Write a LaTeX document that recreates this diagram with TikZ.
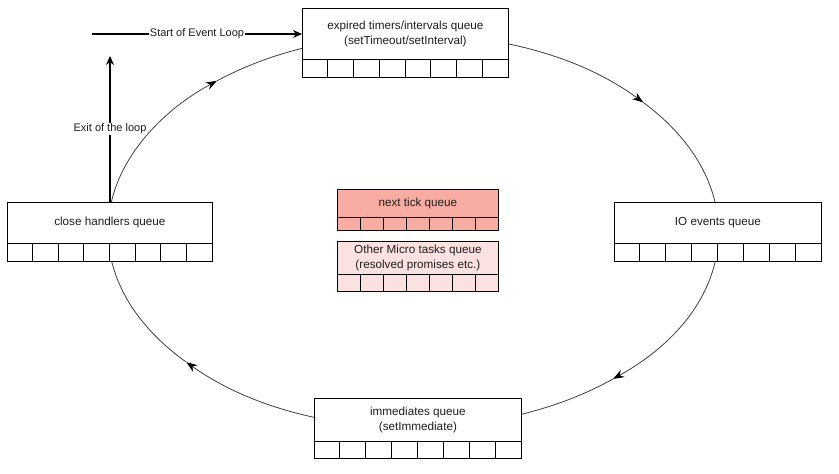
\documentclass[tikz,border=0pt]{standalone}
\usepackage{fontspec}
\setmainfont{Liberation Sans}
\usetikzlibrary{arrows.meta,calc}
\definecolor{tickfill}{RGB}{249,172,162}
\definecolor{microfill}{RGB}{252,225,225}
\definecolor{txt}{RGB}{30,30,30}
\tikzset{
  qtext/.style={draw=black, line width=0.8pt, align=center, inner sep=0pt, text=txt,
    font=\fontsize{11.7}{14.5}\selectfont},
  qcell/.style={draw=black, line width=0.8pt},
  looppath/.style={draw=black!75, line width=0.8pt, -{Stealth[length=11pt,width=8pt,color=black]}},
  mainarrow/.style={draw=black, line width=1.4pt, -{Stealth[length=9pt,width=8pt]}},
  lbl/.style={fill=white, inner sep=1pt, text=txt, font=\fontsize{11}{13}\selectfont}
}
% #1 name, #2 x left, #3 y top, #4 width, #5 text height, #6 cell height, #7 cells, #8 fill, #9 text
\newcommand\queuebox[9]{%
  \node[qtext, fill=#8, minimum width=#4pt, minimum height=#5pt, anchor=north west] (#1) at (#2,#3) {#9};
  \pgfmathsetmacro\qcw{#4/#7}%
  \foreach \i in {1,...,#7}{%
    \draw[qcell, fill=#8] ($(#1.south west)+({(\i-1)*\qcw},0)$) rectangle ++(\qcw,-#6);
  }%
}
\begin{document}
\begin{tikzpicture}[x=1pt,y=1pt]
\useasboundingbox[fill=white] (0,0) rectangle (839,474);
% loop ellipse
\coordinate (ec) at (413,243);
\draw[looppath] (ec) ++(222:305pt and 196pt) arc[start angle=222, end angle=130, x radius=305pt, y radius=196pt];
\draw[looppath] (ec) ++(130:305pt and 196pt) arc[start angle=130, end angle=41, x radius=305pt, y radius=196pt];
\draw[looppath] (ec) ++(41:305pt and 196pt) arc[start angle=41, end angle=-49, x radius=305pt, y radius=196pt];
\draw[looppath] (ec) ++(-49:305pt and 196pt) arc[start angle=-49, end angle=-138, x radius=305pt, y radius=196pt];
% queues
\queuebox{timers}{302}{466}{206}{51}{18}{8}{white}{expired timers/intervals queue\\(setTimeout/setInterval)}
\queuebox{io}{614}{272}{207}{41}{18}{8}{white}{IO events queue}
\queuebox{immediates}{314}{76}{207}{43}{17}{8}{white}{immediates queue\\(setImmediate)}
\queuebox{close}{7}{272}{205}{41}{18}{8}{white}{close handlers queue}
\queuebox{nexttick}{337}{285}{161}{28}{13}{7}{tickfill}{next tick queue}
\queuebox{micro}{337}{233}{161}{33}{17}{7}{microfill}{Other Micro tasks queue\\(resolved promises etc.)}
% start and exit arrows
\coordinate (startpt) at (92,440);
\draw[mainarrow] (startpt) -- (timers.west |- startpt) node[midway, lbl] {Start of Event Loop};
\coordinate (exitpt) at (110,418);
\draw[mainarrow] (close.north -| exitpt) -- (exitpt) node[midway, lbl] {Exit of the loop};
\end{tikzpicture}
\end{document}
